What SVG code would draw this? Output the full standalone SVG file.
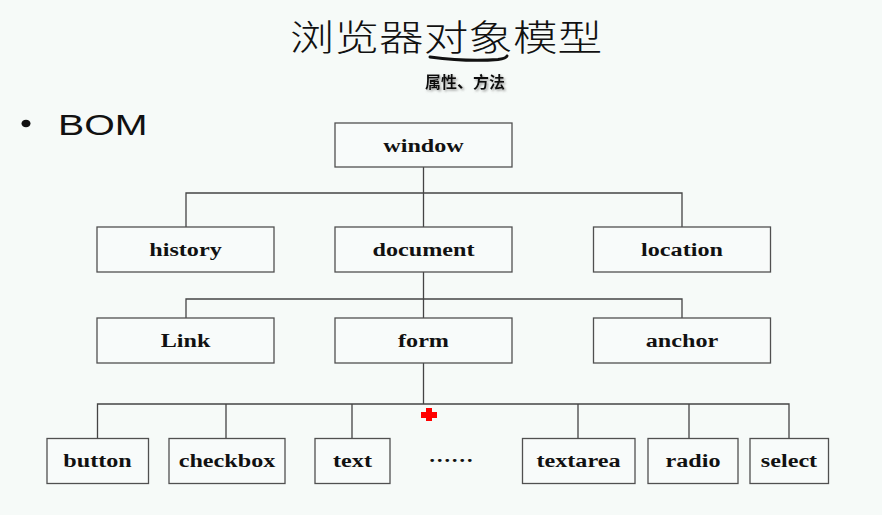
<svg xmlns="http://www.w3.org/2000/svg" width="882" height="515" viewBox="0 0 882 515">
<defs>
<style>
.bg{fill:#f6faf8}
.box{fill:#f8fbfa;stroke:#505050;stroke-width:1.3}
.lbl{font-family:"Liberation Serif","Times New Roman",serif;font-weight:bold;font-size:19.5px;fill:#111;text-anchor:middle}
.con{fill:none;stroke:#444;stroke-width:1.3}
</style>
<filter id="sh" x="-20%" y="-30%" width="140%" height="170%">
<feDropShadow dx="1.5" dy="1.5" stdDeviation="1" flood-color="#888" flood-opacity="0.8"/>
</filter>
</defs>
<rect class="bg" x="0" y="0" width="882" height="515"/>
<g id="title">
<text transform="translate(446,51) scale(1.24,1)" text-anchor="middle" font-family="'Noto Sans CJK SC',sans-serif" font-size="36" font-weight="300" fill="#111">浏览器对象模型</text>
<path d="M430,57 Q468,62 498,59.5 Q506,58.5 507,56" fill="none" stroke="#111" stroke-width="3" stroke-linecap="round"/>
</g>
<g id="subtitle">
<text x="465" y="88" text-anchor="middle" font-family="'Noto Sans CJK SC',sans-serif" font-size="16" font-weight="bold" fill="#111" filter="url(#sh)">属性、方法</text>
</g>
<g id="bom">
<ellipse cx="26" cy="123.5" rx="4.5" ry="3.8" fill="#111"/>
<text transform="translate(58,134.5) scale(1.31,1)" font-family="'Liberation Sans',Arial,sans-serif" font-size="30" fill="#111">BOM</text>
</g>
<g id="connectors">
<path class="con" d="M423.5,167 V227 M186,227 V193 H682 V227"/>
<path class="con" d="M423.5,272 V318 M186,318 V299 H682 V318"/>
<path class="con" d="M423.5,363 V404 M97.5,438 V404 H789 V438 M226,404 V438 M352,404 V438 M578,404 V438 M689,404 V438"/>
</g>
<g id="window"><rect class="box" x="335" y="123" width="177" height="44"/><text class="lbl" transform="translate(423.5,151.5) scale(1.24,1)">window</text></g>
<g id="history"><rect class="box" x="97" y="227" width="177" height="45"/><text class="lbl" transform="translate(185.5,256) scale(1.24,1)">history</text></g>
<g id="document"><rect class="box" x="335" y="227" width="177" height="45"/><text class="lbl" transform="translate(423.5,256) scale(1.24,1)">document</text></g>
<g id="location"><rect class="box" x="593.5" y="227" width="177" height="45"/><text class="lbl" transform="translate(682,256) scale(1.24,1)">location</text></g>
<g id="link"><rect class="box" x="97" y="318" width="177" height="45"/><text class="lbl" transform="translate(185.5,347) scale(1.24,1)">Link</text></g>
<g id="form"><rect class="box" x="335" y="318" width="177" height="45"/><text class="lbl" transform="translate(423.5,347) scale(1.24,1)">form</text></g>
<g id="anchor"><rect class="box" x="593.5" y="318" width="177" height="45"/><text class="lbl" transform="translate(682,347) scale(1.24,1)">anchor</text></g>
<g id="button"><rect class="box" x="47" y="438.5" width="101.5" height="45"/><text class="lbl" transform="translate(97.5,467) scale(1.24,1)">button</text></g>
<g id="checkbox"><rect class="box" x="169" y="438.5" width="116" height="45"/><text class="lbl" transform="translate(227,467) scale(1.24,1)">checkbox</text></g>
<g id="text"><rect class="box" x="315" y="438.5" width="75" height="45"/><text class="lbl" transform="translate(352.5,467) scale(1.24,1)">text</text></g>
<g id="ellipsis"><text class="lbl" transform="translate(451,462) scale(1.15,1)">……</text></g>
<g id="textarea"><rect class="box" x="522.5" y="438.5" width="112.5" height="45"/><text class="lbl" transform="translate(578.5,467) scale(1.24,1)">textarea</text></g>
<g id="radio"><rect class="box" x="648" y="438.5" width="90" height="45"/><text class="lbl" transform="translate(693,467) scale(1.24,1)">radio</text></g>
<g id="select"><rect class="box" x="750" y="438.5" width="78.5" height="45"/><text class="lbl" transform="translate(789,467) scale(1.24,1)">select</text></g>
<path d="M426,408 H432 V412 H437 V418 H432 V421 H426 V418 H421 V412 H426 Z" fill="#f00"/>
</svg>
